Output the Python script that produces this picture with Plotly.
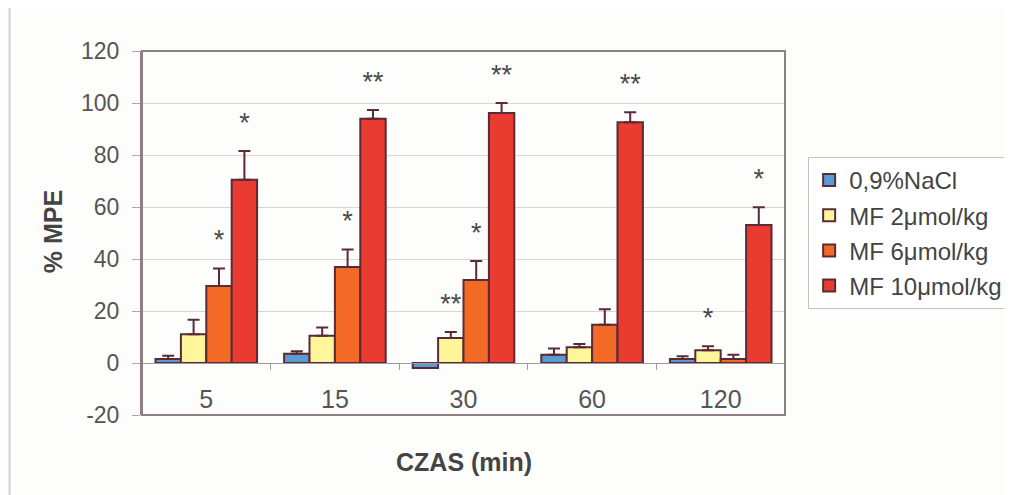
import plotly.graph_objects as go

categories = ["5", "15", "30", "60", "120"]
series_names = ["0,9%NaCl", "MF 2μmol/kg", "MF 6μmol/kg", "MF 10μmol/kg"]

nacl = [1.5, 3.6, -1.9, 3.2, 1.5]
nacl_err = [1.3, 0.9, None, 2.4, 1.1]
mf2 = [11.1, 10.5, 9.6, 6.1, 4.9]
mf2_err = [5.5, 3.2, 2.3, 1.2, 1.5]
mf6 = [29.6, 36.9, 31.9, 14.7, 1.5]
mf6_err = [6.7, 6.8, 7.3, 6.0, 1.7]
mf10 = [70.5, 93.9, 96.2, 92.6, 53.1]
mf10_err = [11.0, 3.4, 3.8, 3.8, 6.8]

nacl_sig = ["", "", "", "", ""]
mf2_sig = ["", "", "**", "", "*"]
mf6_sig = ["*", "*", "*", "", ""]
mf10_sig = ["*", "**", "**", "**", "*"]

y_ticks = [-20, 0, 20, 40, 60, 80, 100, 120]

values = [nacl, mf2, mf6, mf10]
errors = [nacl_err, mf2_err, mf6_err, mf10_err]
sigs = [nacl_sig, mf2_sig, mf6_sig, mf10_sig]
colors = ["#5b9bd5", "#fff59a", "#f26a26", "#e93b2f"]
outline = "#5a2a35"
axis_col = "#8e7f86"
text_col = "#555555"
FONT = "Arial, Liberation Sans, sans-serif"
BARGAP = 0.21
STAR_GAP = 10

fig = go.Figure()
for i in range(4):
    fig.add_trace(go.Bar(
        x=categories, y=values[i], name=series_names[i],
        marker=dict(color=colors[i], line=dict(color=outline, width=2)),
        error_y=dict(type="data", array=errors[i], arrayminus=[0]*5, symmetric=False,
                     color=outline, thickness=2, width=6),
        offsetgroup=str(i), alignmentgroup="a", legendgroup=str(i),
    ))
for i in range(4):
    ys, txt = [], []
    for v, e, s in zip(values[i], errors[i], sigs[i]):
        ys.append(v + (e or 0) + STAR_GAP if s else None)
        txt.append(s)
    fig.add_trace(go.Scatter(
        x=categories, y=ys, text=txt, mode="text", textposition="middle center",
        textfont=dict(size=27, color="#4a4a4a", family=FONT),
        offsetgroup=str(i), alignmentgroup="a", showlegend=False, hoverinfo="skip",
    ))

fig.update_layout(
    width=1012, height=495,
    margin=dict(l=134, r=227, t=43, b=88),
    paper_bgcolor="#fdfdfb", plot_bgcolor="#fdfdfb",
    barmode="group", bargap=BARGAP, bargroupgap=0,
    scattermode="group", scattergap=BARGAP,
    font=dict(family=FONT, size=22, color=text_col),
    showlegend=True,
    legend=dict(x=1.036, y=0.709, xanchor="left", yanchor="top",
                bordercolor="#c8c0c0", borderwidth=1, bgcolor="#ffffff",
                font=dict(size=24, color="#444444", family=FONT),
                tracegroupgap=1, traceorder="grouped"),
    xaxis=dict(type="category", anchor="free", position=20/140,
               showline=True, linecolor="#a09a9a", linewidth=1,
               ticks="outside", tickson="boundaries", ticklen=6, tickcolor="#a09a9a",
               showgrid=False, zeroline=False, ticklabelstandoff=14,
               tickfont=dict(size=25, color=text_col)),
    yaxis=dict(range=[-20, 120], tickvals=y_ticks, ticktext=[str(v) for v in y_ticks],
               showline=True, linecolor=axis_col, linewidth=2,
               ticks="outside", ticklen=8, tickcolor="#b0a8a8",
               showgrid=True, gridcolor="#ddd5d5", gridwidth=1, zeroline=False,
               ticklabelstandoff=8, tickfont=dict(size=23, color=text_col)),
    shapes=[
        dict(type="rect", xref="paper", yref="paper", x0=0, x1=1, y0=0, y1=1,
             line=dict(color=axis_col, width=2), layer="above"),
        dict(type="rect", xref="paper", yref="paper", x0=-0.206, x1=1.5, y0=-0.5, y1=1.121,
             line=dict(color="#d8d0d0", width=2), layer="below"),
    ],
    annotations=[
        dict(text="<b>% MPE</b>", xref="paper", yref="paper", x=-0.138, y=0.503,
             textangle=-90, showarrow=False, xanchor="center", yanchor="middle",
             font=dict(size=25, color="#444444", family=FONT)),
        dict(text="<b>CZAS (min)</b>", xref="paper", yref="paper", x=0.5, y=-0.129,
             showarrow=False, xanchor="center", yanchor="middle",
             font=dict(size=25, color="#444444", family=FONT)),
    ],
)

fig.write_html("out.html")
